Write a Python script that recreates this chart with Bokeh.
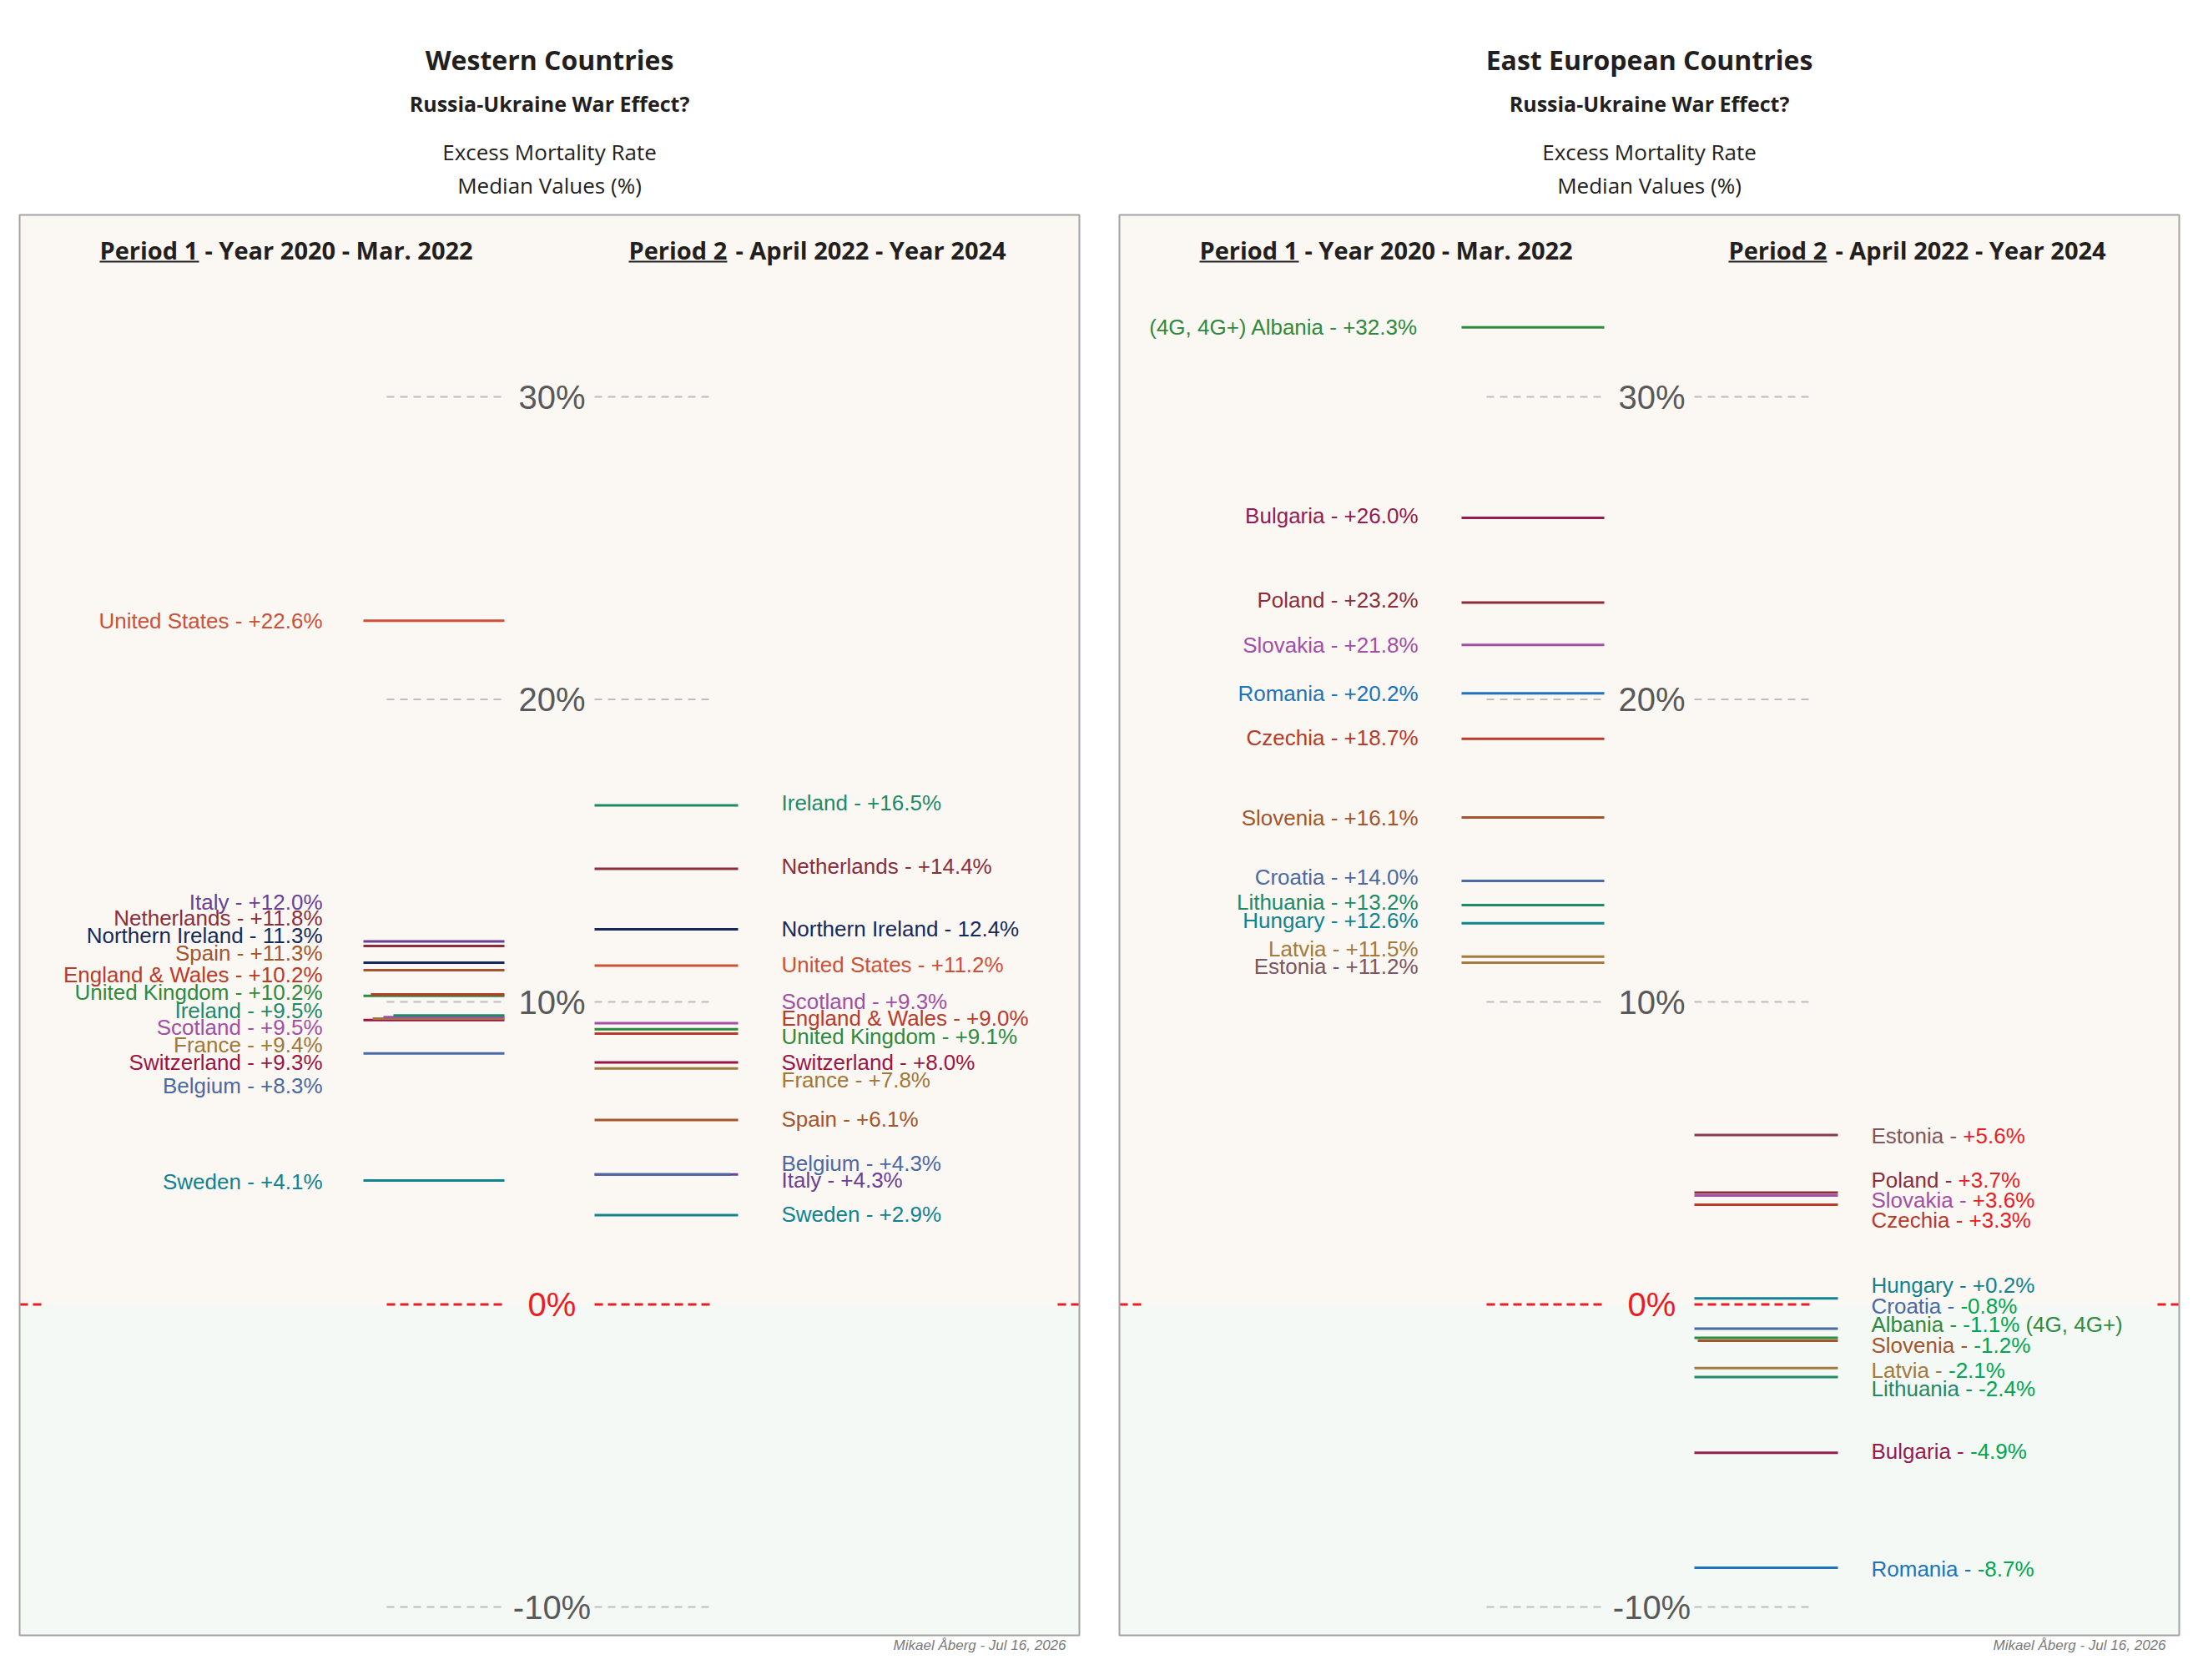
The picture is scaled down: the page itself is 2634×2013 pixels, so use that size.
from bokeh.plotting import figure
from bokeh.models import Range1d, ColumnDataSource
from bokeh.core.properties import value
from bokeh.embed import file_html
from bokeh.resources import INLINE

# ---------------- DATA ----------------
west_p1_names = ["United States", "Italy", "Netherlands", "Northern Ireland", "Spain",
                 "England & Wales", "United Kingdom", "Ireland", "Scotland", "France",
                 "Switzerland", "Belgium", "Sweden"]
west_p1_values = [22.6, 12.0, 11.85, 11.3, 11.05, 10.25, 10.2, 9.55, 9.5, 9.45, 9.4, 8.3, 4.1]
west_p1_labels = ["United States - +22.6%", "Italy - +12.0%", "Netherlands - +11.8%",
                  "Northern Ireland - 11.3%", "Spain - +11.3%", "England & Wales - +10.2%",
                  "United Kingdom - +10.2%", "Ireland - +9.5%", "Scotland - +9.5%",
                  "France - +9.4%", "Switzerland - +9.3%", "Belgium - +8.3%", "Sweden - +4.1%"]

west_p2_names = ["Ireland", "Netherlands", "Northern Ireland", "United States", "Scotland",
                 "England & Wales", "United Kingdom", "Switzerland", "France", "Spain",
                 "Belgium", "Italy", "Sweden"]
west_p2_values = [16.5, 14.4, 12.4, 11.2, 9.3, 8.95, 9.1, 8.0, 7.8, 6.1, 4.3, 4.3, 2.95]
west_p2_labels = ["Ireland - +16.5%", "Netherlands - +14.4%", "Northern Ireland - 12.4%",
                  "United States - +11.2%", "Scotland - +9.3%", "England & Wales - +9.0%",
                  "United Kingdom - +9.1%", "Switzerland - +8.0%", "France - +7.8%",
                  "Spain - +6.1%", "Belgium - +4.3%", "Italy - +4.3%", "Sweden - +2.9%"]

east_p1_names = ["Albania", "Bulgaria", "Poland", "Slovakia", "Romania", "Czechia",
                 "Slovenia", "Croatia", "Lithuania", "Hungary", "Latvia", "Estonia"]
east_p1_values = [32.3, 26.0, 23.2, 21.8, 20.2, 18.7, 16.1, 14.0, 13.2, 12.6, 11.5, 11.3]
east_p1_labels = ["(4G, 4G+) Albania - +32.3%", "Bulgaria - +26.0%", "Poland - +23.2%",
                  "Slovakia - +21.8%", "Romania - +20.2%", "Czechia - +18.7%",
                  "Slovenia - +16.1%", "Croatia - +14.0%", "Lithuania - +13.2%",
                  "Hungary - +12.6%", "Latvia - +11.5%", "Estonia - +11.2%"]

east_p2_names = ["Estonia", "Poland", "Slovakia", "Czechia", "Hungary", "Croatia",
                 "Albania", "Slovenia", "Latvia", "Lithuania", "Bulgaria", "Romania"]
east_p2_values = [5.6, 3.7, 3.6, 3.3, 0.2, -0.8, -1.1, -1.2, -2.1, -2.4, -4.9, -8.7]
east_p2_value_text = ["+5.6%", "+3.7%", "+3.6%", "+3.3%", "+0.2%", "-0.8%", "-1.1%",
                      "-1.2%", "-2.1%", "-2.4%", "-4.9%", "-8.7%"]
east_p2_suffix = {"Albania": "(4G, 4G+)"}

tick_values = [30, 20, 10, 0, -10]
tick_labels = ["30%", "20%", "10%", "0%", "-10%"]

# ---------------- STYLE / LAYOUT ----------------
colors = {
    "United States": "#CF5038", "Italy": "#6B3F98", "Netherlands": "#8C2D3B",
    "Northern Ireland": "#152A5C", "Spain": "#A4552B", "England & Wales": "#BC3A28",
    "United Kingdom": "#2E8A3D", "Ireland": "#1E8A6A", "Scotland": "#A24FA6",
    "France": "#A07838", "Switzerland": "#9B1544", "Belgium": "#4B69A4",
    "Sweden": "#0F8392",
    "Albania": "#2E8A3D", "Bulgaria": "#951B50", "Poland": "#8C2D3B",
    "Slovakia": "#A24FA6", "Romania": "#1C74BC", "Czechia": "#B93A28",
    "Slovenia": "#A4552B", "Croatia": "#4B69A4", "Lithuania": "#1E8A6A",
    "Hungary": "#0F8392", "Latvia": "#A47A3E", "Estonia": "#7B5662",
}
line_color_override = {("E1", "Estonia"): "#A47A3E", ("E2", "Estonia"): "#8A3C4A"}
RED = "#ED1C24"
GREEN = "#00A651"
DARK = "#231F20"

# label placement (de-overlapped positions, % units)
west_p1_label_y = [22.6, 13.30, 12.77, 12.18, 11.61, 10.89, 10.31, 9.72, 9.16, 8.57, 7.99, 7.22, 4.05]
west_p2_label_y = [16.58, 14.47, 12.41, 11.22, 10.02, 9.46, 8.86, 8.0, 7.42, 6.12, 4.67, 4.11, 2.98]
east_p1_label_y = [32.3, 26.07, 23.27, 21.78, 20.19, 18.74, 16.09, 14.12, 13.3, 12.69, 11.76, 11.16]
east_p2_label_y = [5.56, 4.11, 3.45, 2.79, 0.63, -0.05, -0.67, -1.34, -2.18, -2.78, -4.86, -8.75]

# line dodge (px) so overlapping lines stay visible
start_dodge = {("W1", "England & Wales"): 9, ("W1", "France"): 11, ("W1", "Scotland"): 24,
               ("W1", "Ireland"): 36, ("E2", "Slovenia"): 4}
end_dodge = {("W2", "Belgium"): 9}

PX_PER_PCT = 36.25
ZERO_PY = 1562.5
W, H = 2626, 2005


def pct(py):
    return (ZERO_PY - py) / PX_PER_PCT


BOX_W = 1270
BOX_TOP = pct(257)
BOX_BOT = pct(1959)

# Arial / Liberation Sans advance widths (1/1000 em)
AW = {' ': 278, '!': 278, '(': 333, ')': 333, '+': 584, ',': 278, '-': 333, '.': 278,
      '%': 889, '&': 667, 'A': 667, 'B': 667, 'C': 722, 'D': 722, 'E': 667, 'F': 611,
      'G': 778, 'H': 722, 'I': 278, 'J': 500, 'K': 667, 'L': 556, 'M': 833, 'N': 722,
      'O': 778, 'P': 667, 'R': 722, 'S': 667, 'T': 611, 'U': 722, 'W': 944,
      'a': 556, 'b': 556, 'c': 500, 'd': 556, 'e': 556, 'f': 278, 'g': 556, 'h': 556,
      'i': 222, 'j': 222, 'k': 500, 'l': 222, 'm': 833, 'n': 556, 'o': 556, 'p': 556,
      'q': 556, 'r': 333, 's': 500, 't': 278, 'u': 556, 'v': 500, 'w': 722, 'x': 500,
      'y': 500, 'z': 500}
for d in "0123456789":
    AW[d] = 556


def text_w(s, size):
    return sum(AW.get(c, 556) for c in s) / 1000.0 * size


LABEL_FONT = value("Liberation Sans")
TITLE_FONT = value("Open Sans")
LABEL_SIZE = 26

p = figure(width=W, height=H, x_range=Range1d(0, W),
           y_range=Range1d(pct(H), pct(0)),
           x_axis_location=None, y_axis_location=None,
           toolbar_location=None, output_backend="svg", min_border=0)
p.outline_line_color = None
p.background_fill_color = "white"
p.border_fill_color = "white"
p.xgrid.visible = False
p.ygrid.visible = False


def draw_lines(ox, key, names, values, x0, x1):
    items = []
    for n, v in zip(names, values):
        sd = start_dodge.get((key, n), 0)
        ed = end_dodge.get((key, n), 0)
        items.append((sd + ed, n, v, ox + x0 + sd, ox + x1 - ed))
    items.sort(key=lambda t: t[0])
    src = ColumnDataSource(dict(
        x0=[t[3] for t in items], x1=[t[4] for t in items],
        y=[t[2] for t in items],
        c=[line_color_override.get((key, t[1]), colors[t[1]]) for t in items]))
    p.segment(x0="x0", x1="x1", y0="y", y1="y", line_color="c", line_width=3, source=src)


def draw_labels(x, names, labels, ys, align):
    src = ColumnDataSource(dict(x=[x] * len(names), y=ys, t=labels,
                                c=[colors[n] for n in names]))
    p.text(x="x", y="y", text="t", text_color="c", text_font=LABEL_FONT,
           text_font_size=f"{LABEL_SIZE}px", text_align=align, text_baseline="middle",
           source=src)


def panel(ox, title):
    cx = ox + BOX_W / 2
    # backgrounds
    p.quad(left=[ox], right=[ox + BOX_W], top=[BOX_TOP], bottom=[0],
           fill_color="#FBF7F3", line_color=None)
    p.quad(left=[ox], right=[ox + BOX_W], top=[0], bottom=[BOX_BOT],
           fill_color="#F5F9F5", line_color=None)
    # grid dashes
    gx0, gx1 = [], []
    gy = []
    for t in tick_values:
        if t == 0:
            continue
        gx0 += [ox + 440, ox + 689]
        gx1 += [ox + 582, ox + 832]
        gy += [t, t]
    p.segment(x0=gx0, x1=gx1, y0=gy, y1=gy, line_color="#BDBDBD", line_width=2,
              line_dash="9 7")
    # zero line
    zx0 = [ox, ox + 440, ox + 689, ox + BOX_W - 26]
    zx1 = [ox + 26, ox + 582, ox + 832, ox + BOX_W]
    p.segment(x0=zx0, x1=zx1, y0=[0] * 4, y1=[0] * 4, line_color=RED, line_width=3,
              line_dash="10 6")
    # tick labels
    tcol = [RED if t == 0 else "#595959" for t in tick_values]
    p.text(x=[ox + 638] * len(tick_values), y=tick_values, text=tick_labels,
           text_color=tcol, text_font=LABEL_FONT, text_font_size="40px",
           text_align="center", text_baseline="middle")
    # border
    p.quad(left=[ox], right=[ox + BOX_W], top=[BOX_TOP], bottom=[BOX_BOT],
           fill_color=None, line_color="#A3A3A3", line_width=2)
    # titles
    p.text(x=[cx], y=[pct(71)], text=[title], text_font=TITLE_FONT, text_font_style="bold",
           text_font_size="32px", text_color=DARK, text_align="center", text_baseline="middle")
    p.text(x=[cx], y=[pct(123)], text=["Russia-Ukraine War Effect?"], text_font=TITLE_FONT,
           text_font_style="bold", text_font_size="25px", text_color=DARK,
           text_align="center", text_baseline="middle")
    p.text(x=[cx, cx], y=[pct(181), pct(221)],
           text=["Excess Mortality Rate", "Median Values (%)"], text_font=TITLE_FONT,
           text_font_size="26px", text_color=DARK, text_align="center",
           text_baseline="middle")
    # period headers
    hy = pct(299)
    p.text(x=[ox + 96, ox + 730], y=[hy, hy], text=["Period 1", "Period 2"],
           text_font=TITLE_FONT, text_font_style="bold", text_font_size="29px",
           text_color=DARK, text_align="left", text_baseline="middle")
    p.text(x=[ox + 222, ox + 858], y=[hy, hy],
           text=["- Year 2020 - Mar. 2022", "- April 2022 - Year 2024"],
           text_font=TITLE_FONT, text_font_style="bold", text_font_size="29px",
           text_color=DARK, text_align="left", text_baseline="middle")
    uy = pct(313)
    p.segment(x0=[ox + 96, ox + 730], x1=[ox + 215, ox + 848], y0=[uy, uy], y1=[uy, uy],
              line_color=DARK, line_width=2)
    # footer
    p.text(x=[ox + 1254], y=[pct(1971)], text=["Mikael Åberg - Jul 16, 2026"],
           text_font=LABEL_FONT, text_font_style="italic", text_font_size="17px",
           text_color="#7A7A7A", text_align="right", text_baseline="middle")


# ---------------- WEST ----------------
OXW = 23
panel(OXW, "Western Countries")
draw_lines(OXW, "W1", west_p1_names, west_p1_values, 412, 581)
draw_lines(OXW, "W2", west_p2_names, west_p2_values, 689, 861)
draw_labels(OXW + 363, west_p1_names, west_p1_labels, west_p1_label_y, "right")
draw_labels(OXW + 913, west_p2_names, west_p2_labels, west_p2_label_y, "left")

# ---------------- EAST ----------------
OXE = 1341
panel(OXE, "East European Countries")
draw_lines(OXE, "E1", east_p1_names, east_p1_values, 410, 581)
draw_lines(OXE, "E2", east_p2_names, east_p2_values, 689, 861)
draw_labels(OXE + 358, east_p1_names, east_p1_labels, east_p1_label_y, "right")

# east period 2: name part in country colour, value part red/green
lx = OXE + 901
name_parts = [n + " - " for n in east_p2_names]
val_x = [lx + text_w(s, LABEL_SIZE) for s in name_parts]
val_col = [RED if v > 0.5 else (GREEN if v < 0 else colors[n])
           for n, v in zip(east_p2_names, east_p2_values)]
p.text(x=[lx] * len(name_parts), y=east_p2_label_y, text=[s.rstrip() for s in name_parts],
       text_color=[colors[n] for n in east_p2_names], text_font=LABEL_FONT,
       text_font_size=f"{LABEL_SIZE}px", text_align="left", text_baseline="middle")
p.text(x=val_x, y=east_p2_label_y, text=east_p2_value_text, text_color=val_col,
       text_font=LABEL_FONT, text_font_size=f"{LABEL_SIZE}px", text_align="left",
       text_baseline="middle")
sx, sy, st, sc = [], [], [], []
for i, n in enumerate(east_p2_names):
    if n in east_p2_suffix:
        sx.append(val_x[i] + text_w(east_p2_value_text[i] + " ", LABEL_SIZE))
        sy.append(east_p2_label_y[i])
        st.append(east_p2_suffix[n])
        sc.append(colors[n])
p.text(x=sx, y=sy, text=st, text_color=sc, text_font=LABEL_FONT,
       text_font_size=f"{LABEL_SIZE}px", text_align="left", text_baseline="middle")

open("out.html", "w").write(file_html(p, INLINE))
